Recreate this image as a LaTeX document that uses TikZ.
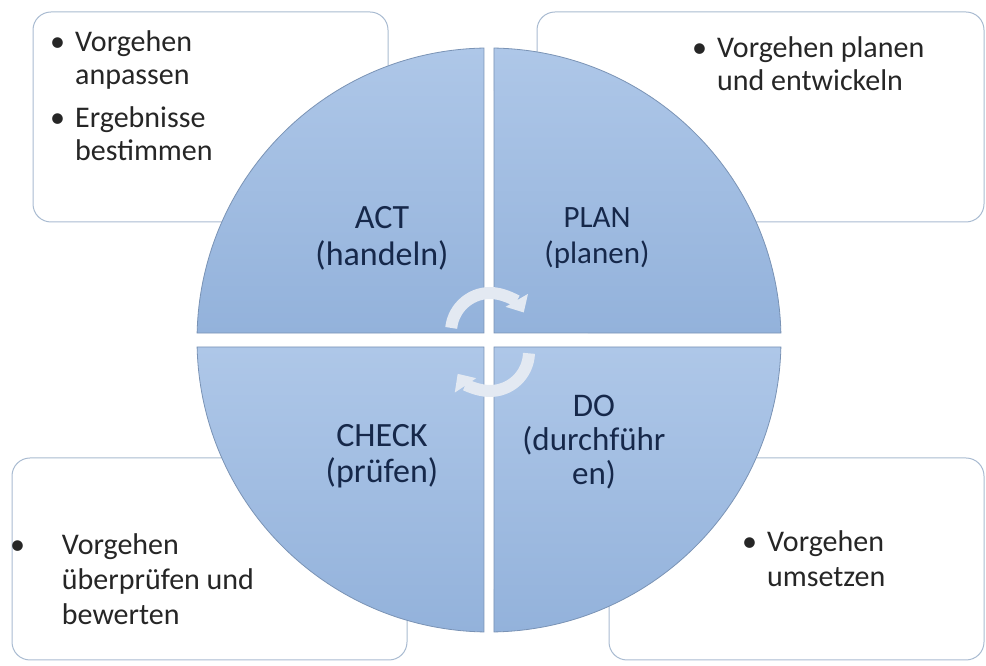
\documentclass[tikz,border=0pt]{standalone}
\usepackage{fontspec}
\setmainfont{Carlito}
\usetikzlibrary{arrows.meta,calc}
\definecolor{quadtop}{HTML}{AEC7E8}
\definecolor{quadbot}{HTML}{93B2DB}
\definecolor{quadline}{HTML}{7A93B5}
\definecolor{boxline}{HTML}{A9BBD1}
\definecolor{labeltext}{HTML}{16284A}
\definecolor{boxtext}{HTML}{262626}
\definecolor{cyclearrow}{HTML}{E3E9F2}
\newcommand{\blt}[1][25pt]{\makebox[#1][l]{\textbullet}}
\newcommand{\ind}[1][25pt]{\hspace*{#1}}

\begin{document}
\begin{tikzpicture}[x=1pt, y=1pt,
    infobox/.style={rectangle, rounded corners=18pt, draw=boxline, line width=1pt, fill=white},
    quad/.style={draw=quadline, line width=0.8pt, top color=quadtop, bottom color=quadbot},
    phase/.style={align=center, text=labeltext, inner sep=0pt},
    note/.style={align=left, text=boxtext, anchor=base west, inner sep=0pt, font=\fontsize{30}{33}\selectfont},
    cyc/.style={line width=12pt, draw=cyclearrow, -{Triangle[width=25pt,length=14pt]}}
]
    \useasboundingbox (0,0) rectangle (986,666);

    % Boxes
    \node[infobox, minimum width=355pt, minimum height=210pt] (actbox) at (210.5,549) {};
    \node[infobox, minimum width=447pt, minimum height=210pt] (planbox) at (760.5,549) {};
    \node[infobox, minimum width=395pt, minimum height=202pt] (checkbox) at (209.5,107) {};
    \node[infobox, minimum width=375pt, minimum height=202pt] (dobox) at (796.5,107) {};

    % Circle
    \coordinate (c) at (489,326);
    \draw[quad] ($(c)+(5,7)$) -- ($(c)+(1.37:292)$) arc[start angle=1.37, end angle=89.02, radius=292] -- cycle;
    \draw[quad] ($(c)+(-5,7)$) -- ($(c)+(90.98:292)$) arc[start angle=90.98, end angle=178.63, radius=292] -- cycle;
    \draw[quad] ($(c)+(-5,-7)$) -- ($(c)+(181.37:292)$) arc[start angle=181.37, end angle=269.02, radius=292] -- cycle;
    \draw[quad] ($(c)+(5,-7)$) -- ($(c)+(270.98:292)$) arc[start angle=270.98, end angle=358.63, radius=292] -- cycle;

    % Cycle arrows
    \draw[cyc] ($(c)+(1,8)$) ++(174:39) arc[start angle=174, end angle=30, radius=39];
    \draw[cyc] ($(c)+(1,-12)$) ++(-2:39) arc[start angle=-2, end angle=-146, radius=39];

    % Phases
    \node[phase, font=\fontsize{34}{37}\selectfont] (act) at (382,428) {ACT\\(handeln)};
    \node[phase, font=\fontsize{31}{36}\selectfont] (plan) at (597,428) {PLAN\\(planen)};
    \node[phase, font=\fontsize{34}{36}\selectfont] (check) at (382,210) {CHECK\\(prüfen)};
    \node[phase, font=\fontsize{33}{34}\selectfont] (do) at (594,224) {DO\\(durchführ\\en)};

    % Notes (anchored at the last line)
    \node[note] (actnote) at (50,505) {\blt Vorgehen\\\ind anpassen\\[10pt]\blt Ergebnisse\\\ind bestimmen};
    \node[note] (plannote) at (692,575) {\blt Vorgehen planen\\\ind und entwickeln};
    \node[note, font=\fontsize{30}{35}\selectfont] (checknote) at (10,41) {\blt[45pt] Vorgehen\\\ind[45pt] überprüfen und\\\ind[45pt] bewerten};
    \node[note, font=\fontsize{30}{35}\selectfont] (donote) at (742,79) {\blt Vorgehen\\\ind umsetzen};
\end{tikzpicture}
\end{document}
